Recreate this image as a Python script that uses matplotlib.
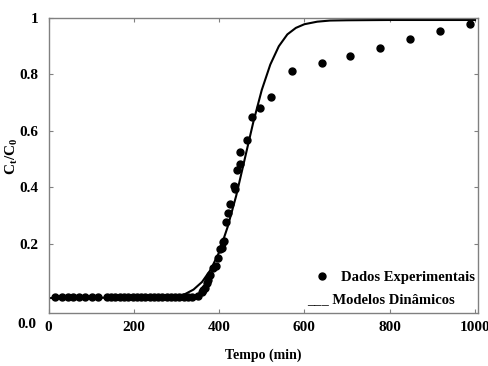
import matplotlib
matplotlib.use("Agg")
import matplotlib.pyplot as plt

plt.rcParams['font.family'] = ['Liberation Serif', 'DejaVu Serif']
plt.rcParams['font.weight'] = 'bold'
plt.rcParams['mathtext.fontset'] = 'custom'
plt.rcParams['mathtext.rm'] = 'Liberation Serif:bold'
plt.rcParams['mathtext.bf'] = 'Liberation Serif:bold'
plt.rcParams['mathtext.default'] = 'bf'

# experimental breakthrough data (min, Ct/C0)
t_exp = [15, 31, 45, 58, 72, 86, 101, 117,
         137, 147, 157, 167, 177, 187, 197, 207, 217, 227, 237, 247,
         257, 267, 277, 287, 297, 307, 317, 327, 337,
         351, 359, 363, 367, 371, 375, 379, 385, 393, 398, 402, 406,
         409, 412, 416, 422, 426, 434, 437, 443, 448, 449, 465, 478,
         496, 522, 570, 641, 707, 777, 848, 918, 989]
c_exp = [0.01, 0.01, 0.01, 0.01, 0.01, 0.01, 0.01, 0.01,
         0.01, 0.01, 0.01, 0.01, 0.01, 0.01, 0.01, 0.01, 0.01, 0.01, 0.01, 0.01,
         0.01, 0.01, 0.01, 0.01, 0.01, 0.01, 0.01, 0.01, 0.012,
         0.016, 0.031, 0.037, 0.043, 0.061, 0.072, 0.09, 0.114, 0.12, 0.149, 0.181, 0.185,
         0.208, 0.21, 0.276, 0.309, 0.34, 0.405, 0.394, 0.462, 0.483, 0.527, 0.569, 0.649,
         0.681, 0.72, 0.813, 0.84, 0.867, 0.893, 0.926, 0.953, 0.979]

# dynamic model curve
t_mod = [0, 250, 300, 320, 340, 360, 380, 400, 420, 440, 460, 480, 500,
         520, 540, 560, 580, 600, 630, 660, 700, 800, 900, 1000]
c_mod = [0.008, 0.01, 0.015, 0.022, 0.038, 0.065, 0.108, 0.17, 0.26, 0.37, 0.50,
         0.63, 0.745, 0.835, 0.90, 0.942, 0.965, 0.978, 0.987, 0.991, 0.992,
         0.993, 0.993, 0.993]

xticks = [0, 200, 400, 600, 800, 1000]
yticks = [0.2, 0.4, 0.6, 0.8, 1.0]
ytick_labels = ['0.2', '0.4', '0.6', '0.8', '1']

fig = plt.figure(figsize=(4.89, 3.66), dpi=100)
ax = fig.add_axes([0.0992, 0.1448, 0.8783, 0.806])

ax.plot(t_mod, c_mod, color='black', lw=1.5)
ax.plot(t_exp, c_exp, 'o', color='black', ms=5, mec='black')

ax.set_xlim(0, 1007)
ax.set_ylim(-0.045, 1.0)
ax.set_xticks(xticks)
ax.set_yticks(yticks)
ax.set_yticklabels(ytick_labels)
ax.tick_params(direction='in', length=3, width=0.8, color='gray',
               top=True, right=True, labelsize=11, pad=6)
ax.tick_params(axis='y', pad=7)
for lab in ax.get_xticklabels() + ax.get_yticklabels():
    lab.set_fontweight('bold')
for s in ax.spines.values():
    s.set_color('gray')
    s.set_linewidth(1.0)

# lone "0.0" label at the lower-left corner
fig.text(36 / 489, 1 - 325 / 366, '0.0', ha='right', va='center',
         fontsize=11, fontweight='bold')

ax.set_xlabel('Tempo (min)', fontsize=10, fontweight='bold')
ax.xaxis.set_label_coords(0.5, -0.12)
ax.set_ylabel(r'C$_\mathrm{t}$/C$_\mathrm{0}$', fontsize=11, fontweight='bold')
ax.yaxis.set_label_coords(-0.066, 0.53)

# legend drawn as text, as in the original
ax.plot([0.637], [0.125], 'o', color='black', ms=5, transform=ax.transAxes)
ax.text(0.681, 0.12, 'Dados Experimentais', transform=ax.transAxes,
        ha='left', va='center', fontsize=10.5, fontweight='bold')
ax.text(0.602, 0.045, '___ Modelos Dinâmicos', transform=ax.transAxes,
        ha='left', va='center', fontsize=10.5, fontweight='bold')

fig.savefig('out.png', dpi=100)
